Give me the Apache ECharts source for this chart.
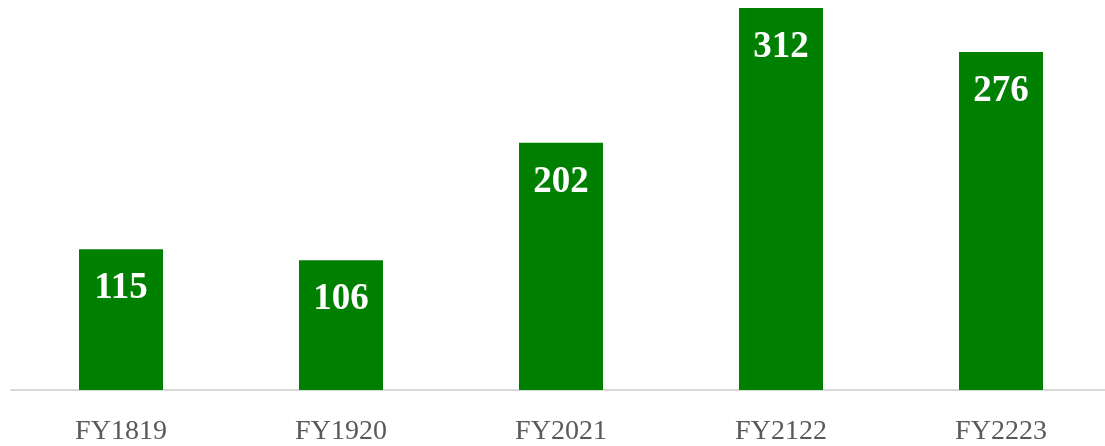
<!DOCTYPE html>
<html>
<head>
<meta charset="utf-8">
<script src="https://cdn.jsdelivr.net/npm/echarts@6/dist/echarts.min.js"></script>
<style>
  html, body { margin: 0; padding: 0; background: #fff; overflow: hidden; }
  #chart { width: 1111px; height: 446px; }
</style>
</head>
<body>
<div id="chart"></div>
<script>
// fiscal years and values
var years = ['FY1819', 'FY1920', 'FY2021', 'FY2122', 'FY2223'];
var values = [115, 106, 202, 312, 276];

var myChart = echarts.init(document.getElementById('chart'));
var option = {
  animation: false,
  grid: { left: 11, right: 0, top: 8, bottom: 54 },
  xAxis: {
    type: 'category',
    data: years,
    axisTick: { show: false },
    axisLine: { lineStyle: { color: '#d9d9d9', width: 2 } },
    axisLabel: {
      color: '#595959',
      fontFamily: 'Liberation Serif',
      fontSize: 28,
      margin: 28
    }
  },
  yAxis: {
    type: 'value',
    min: 0,
    max: 312,
    show: false
  },
  series: [{
    type: 'bar',
    data: values,
    barWidth: 84,
    itemStyle: { color: '#008000' },
    label: {
      show: true,
      position: 'insideTop',
      distance: 21,
      color: '#fff',
      fontFamily: 'Liberation Serif',
      fontWeight: 'bold',
      fontSize: 37
    }
  }]
};
myChart.setOption(option);
</script>
</body>
</html>
